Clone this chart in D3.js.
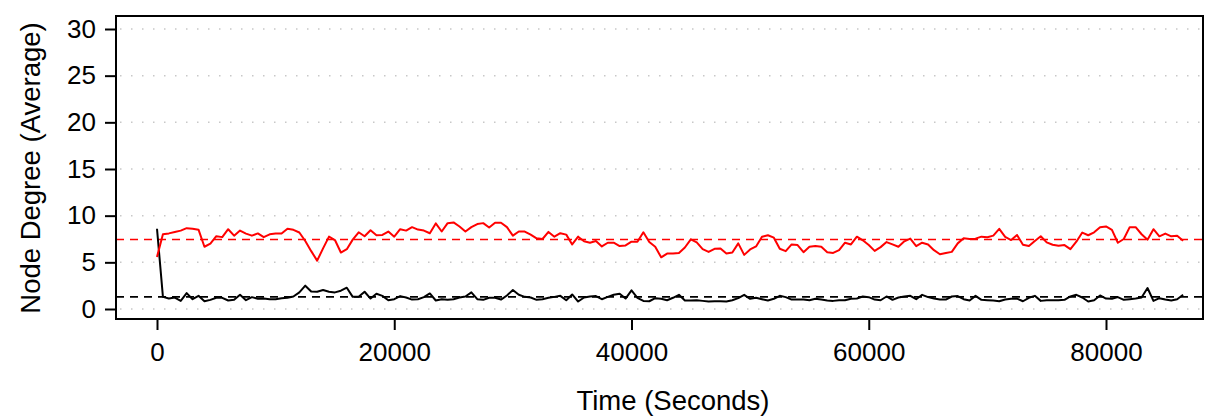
<!DOCTYPE html>
<html>
<head>
<meta charset="utf-8">
<script src="https://cdn.jsdelivr.net/npm/d3@7"></script>
<style>
  body { margin: 0; background: #fff; }
  text { font-family: "Liberation Sans", Arial, Helvetica, sans-serif; }
</style>
</head>
<body>
<div id="chart"></div>
<script>
// samples every 500 s over one day
var startTime = 0;
var stepTime = 500;

// red series (upper)
var redDegree = [
  5.58, 8.0, 8.1, 8.25, 8.4, 8.66, 8.6, 8.5, 6.67, 7.0,
  7.8, 7.7, 8.55, 7.86, 8.4, 8.08, 7.86, 8.1, 7.7, 8.0,
  8.08, 8.08, 8.59, 8.48, 8.2, 7.28, 6.2, 5.18, 6.49, 7.75,
  7.39, 6.05, 6.41, 7.43, 8.22, 7.79, 8.44, 7.9, 7.93, 8.3,
  7.75, 8.55, 8.4, 8.77, 8.51, 8.4, 8.12, 9.17, 8.3, 9.2,
  9.28, 8.84, 8.3, 8.77, 9.1, 9.2, 8.73, 9.24, 9.24, 8.77,
  7.86, 8.3, 8.3, 7.97, 7.57, 7.5, 8.26, 7.75, 8.12, 7.97,
  6.92, 7.75, 7.25, 7.1, 7.28, 6.7, 7.1, 7.1, 6.74, 6.81,
  7.21, 7.21, 8.22, 7.17, 6.67, 5.54, 5.94, 5.94, 6.01, 6.59,
  7.46, 7.14, 6.41, 6.12, 6.45, 6.49, 5.94, 6.05, 7.03, 5.8,
  6.38, 6.7, 7.75, 7.9, 7.64, 6.45, 6.2, 6.92, 6.85, 6.09,
  6.67, 6.74, 6.67, 6.09, 6.01, 6.3, 7.1, 6.92, 7.75, 7.36,
  6.85, 6.23, 6.63, 7.17, 6.92, 6.67, 7.25, 7.54, 6.74, 7.1,
  6.92, 6.3, 5.87, 6.01, 6.12, 7.03, 7.57, 7.5, 7.54, 7.75,
  7.68, 7.86, 8.59, 7.72, 7.39, 7.93, 6.88, 6.74, 7.28, 7.79,
  7.14, 6.88, 6.77, 6.85, 6.41, 7.21, 8.19, 7.9, 8.22, 8.77,
  8.84, 8.48, 7.1, 7.5, 8.77, 8.77, 8.01, 7.43, 8.55, 7.79,
  8.08, 7.79, 7.86, 7.32
];

// black series (lower)
var blackDegree = [
  8.6, 1.3, 1.12, 1.23, 0.87, 1.7, 1.05, 1.41, 0.83, 0.98,
  1.2, 1.2, 0.91, 0.98, 1.52, 0.94, 1.27, 1.09, 1.12, 1.05,
  1.05, 1.16, 1.2, 1.34, 1.78, 2.5, 1.88, 1.85, 2.03, 1.85,
  1.78, 1.96, 2.28, 1.3, 1.3, 1.85, 1.12, 1.63, 1.41, 0.94,
  1.05, 1.38, 1.23, 1.01, 1.05, 1.27, 1.67, 0.91, 1.05, 0.98,
  1.05, 1.23, 1.34, 1.78, 1.05, 0.98, 1.2, 1.2, 1.01, 1.45,
  2.03, 1.52, 1.3, 1.23, 0.98, 1.05, 1.2, 1.3, 1.41, 0.94,
  1.56, 0.8, 1.23, 1.34, 1.38, 1.05, 1.3, 1.52, 1.63, 1.12,
  2.0, 1.2, 0.87, 0.83, 1.16, 1.09, 0.94, 1.2, 1.52, 0.91,
  0.91, 0.94, 0.87, 0.8, 0.83, 0.83, 0.8, 0.94, 1.16, 1.52,
  1.09, 1.2, 1.05, 0.91, 1.09, 1.41, 1.27, 1.01, 1.01, 1.01,
  0.94, 1.09, 1.01, 0.91, 0.87, 0.94, 0.94, 1.09, 1.12, 1.34,
  1.27, 1.01, 0.94, 1.34, 0.98, 1.23, 1.34, 1.41, 1.05, 1.52,
  1.27, 1.12, 1.01, 1.01, 1.34, 1.38, 1.05, 0.91, 1.41, 0.98,
  0.94, 0.91, 0.83, 1.01, 1.09, 1.12, 0.83, 1.2, 1.41, 0.87,
  0.94, 0.94, 0.94, 0.98, 1.34, 1.52, 1.23, 0.8, 0.94, 1.45,
  1.12, 1.09, 1.27, 0.98, 1.05, 1.12, 1.23, 2.25, 0.87, 1.16,
  1.01, 0.91, 1.05, 1.52
];

// dashed reference levels
var redMean = 7.45;
var blackMean = 1.3;

var xTicks = [0, 20000, 40000, 60000, 80000];
var yTicks = [0, 5, 10, 15, 20, 25, 30];

var width = 1206, height = 417;
var box = {left: 116, right: 1203, top: 16, bottom: 319};

var svg = d3.select("#chart")
  .append("svg")
    .attr("width", width)
    .attr("height", height);

// scales
var x = d3.scaleLinear()
    .domain([0, 80000])
    .range([157, 1106]);

var y = d3.scaleLinear()
    .domain([0, 30])
    .range([309, 29]);

// dotted grid
svg.append("g")
  .selectAll("line")
  .data(yTicks)
  .enter()
  .append("line")
    .attr("x1", box.left + 4)
    .attr("x2", box.right)
    .attr("y1", function(d) { return y(d); })
    .attr("y2", function(d) { return y(d); })
    .attr("stroke", "#c8c8c8")
    .attr("stroke-width", 1.5)
    .attr("stroke-dasharray", "1.5,9.5");

// mean lines
var means = [{v: redMean, c: "#ff0000"}, {v: blackMean, c: "#000"}];
svg.append("g")
  .selectAll("line")
  .data(means)
  .enter()
  .append("line")
    .attr("x1", box.left)
    .attr("x2", box.right)
    .attr("y1", function(d) { return y(d.v); })
    .attr("y2", function(d) { return y(d.v); })
    .attr("stroke", function(d) { return d.c; })
    .attr("stroke-width", 1.6)
    .attr("stroke-dasharray", "8,6");

// data lines
var line = d3.line()
    .x(function(d, i) { return x(startTime + i * stepTime); })
    .y(function(d) { return y(d); });

svg.append("path")
  .datum(blackDegree)
  .attr("d", line)
  .attr("fill", "none")
  .attr("stroke", "#000")
  .attr("stroke-width", 2)
  .attr("stroke-linejoin", "round");

svg.append("path")
  .datum(redDegree)
  .attr("d", line)
  .attr("fill", "none")
  .attr("stroke", "#ff0000")
  .attr("stroke-width", 2)
  .attr("stroke-linejoin", "round");

// frame
svg.append("rect")
  .attr("x", box.left)
  .attr("y", box.top)
  .attr("width", box.right - box.left)
  .attr("height", box.bottom - box.top)
  .attr("fill", "none")
  .attr("stroke", "#000")
  .attr("stroke-width", 2);

// axes
var yAxis = svg.append("g")
  .attr("transform", "translate(" + box.left + ",0)")
  .call(d3.axisLeft(y).tickValues(yTicks).tickSize(11).tickPadding(9));

var xAxis = svg.append("g")
  .attr("transform", "translate(0," + box.bottom + ")")
  .call(d3.axisBottom(x).tickValues(xTicks).tickSize(11).tickPadding(13)
    .tickFormat(d3.format("d")));

[yAxis, xAxis].forEach(function(a) {
  a.select(".domain").remove();
  a.selectAll(".tick line").attr("stroke", "#000").attr("stroke-width", 2);
  a.selectAll(".tick text")
    .attr("fill", "#000")
    .style("font-size", "26px")
    .style("font-family", "'Liberation Sans', Arial, sans-serif");
});

// axis titles
svg.append("text")
  .attr("x", 673)
  .attr("y", 410)
  .attr("text-anchor", "middle")
  .style("font-size", "27.5px")
  .text("Time (Seconds)");

svg.append("text")
  .attr("transform", "translate(40,168) rotate(-90)")
  .attr("text-anchor", "middle")
  .style("font-size", "27.5px")
  .text("Node Degree (Average)");
</script>
</body>
</html>
